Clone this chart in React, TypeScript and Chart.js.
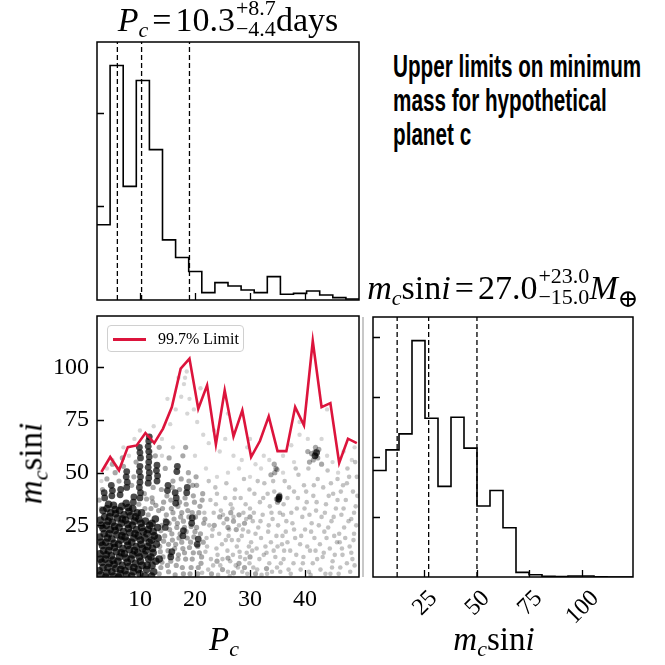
import React, { useEffect, useRef } from "react";
import { Chart, registerables } from "chart.js";
Chart.register(...registerables);

// ---------------- data ----------------
const pRange = [2.2, 49.8];
const mRange = [0.5, 124.3];
const pTicks = [10, 20, 30, 40];
const mTicks = [25, 50, 75, 100];

const pBinEdges = [2.2, 4.58, 6.96, 9.34, 11.72, 14.1, 16.48, 18.86, 21.24, 23.62, 26.0, 28.38, 30.76, 33.14, 35.52, 37.9, 40.28, 42.66, 45.04, 47.42, 49.8];
const pCounts = [804, 2507, 1214, 2346, 1607, 643, 454, 304, 79, 186, 150, 107, 79, 250, 61, 71, 96, 54, 25, 11];
const pQuantiles = [5.9, 10.3, 19.0];
const pHistTicks = [1000, 2000];

const mBinEdges = [0.5, 6.69, 12.88, 19.07, 25.26, 31.45, 37.64, 43.83, 50.02, 56.21, 62.4, 68.59, 74.78, 80.97, 87.16, 93.35, 99.54, 105.73, 111.92, 118.11, 124.3];
const mCounts = [889, 1061, 1194, 1972, 1325, 756, 1333, 1075, 592, 722, 411, 39, 19, 6, 3, 8, 8, 1, 0, 0];
const mQuantiles = [12.0, 27.0, 50.0];
const mHistTicks = [500, 1000, 1500, 2000];

const limitLabel = "99.7% Limit";
const limitP = [3.0, 4.6, 6.2, 7.8, 9.4, 11.0, 12.6, 14.2, 15.8, 17.4, 19.0, 20.6, 22.2, 23.8, 25.4, 27.0, 28.6, 30.2, 31.8, 33.4, 35.0, 36.6, 38.2, 39.8, 41.4, 43.0, 44.6, 46.2, 47.8, 49.4];
const limitM = [50.3, 57.4, 51.1, 62.1, 62.9, 68.8, 64.0, 70.9, 81.1, 99.3, 104.1, 80.3, 91.4, 63.4, 89.0, 67.2, 79.5, 57.4, 65.0, 76.7, 60.2, 60.2, 81.1, 72.4, 112.4, 81.1, 83.0, 54.6, 66.1, 64.0];

// posterior samples (P_c, m_c sin i)
const coreSamples = [
  [2.9,1.5],[3.3,5],[2.8,9],[3.4,13],[2.9,17],[3.5,21],[3.0,25],[3.6,29],
  [4.0,2.5],[4.4,7],[3.9,11],[4.5,15],[4.1,19],[4.6,23],[4.2,27],[4.7,31],[4.3,35],
  [5.2,1],[5.6,4.5],[5.1,8.5],[5.7,12.5],[5.3,16.5],[5.8,20.5],[5.4,24.5],[5.9,28.5],[5.5,32.5],
  [6.4,2],[6.8,6],[6.3,10],[6.9,14],[6.5,18],[7.0,22],[6.6,26],[7.1,30],[6.7,34],
  [7.6,1.5],[8.0,5.5],[7.5,9.5],[8.1,13.5],[7.7,17.5],[8.2,21.5],[7.8,25.5],[8.3,29.5],[7.9,33.5],
  [8.8,3],[9.2,7],[8.7,11],[9.3,15],[8.9,19],[9.4,23],[9.0,27],[9.5,31],
  [10.0,2],[10.4,6],[9.9,10],[10.5,14],[10.1,18],[10.6,22],[10.2,26],
  [11.2,4],[11.6,9],[11.1,13],[11.7,17],[11.3,21],[11.8,25],
  [12.5,3],[12.9,8],[12.4,12],[13.0,16],[12.6,20],[13.2,24],[12.8,28]
];
const coreSamples2 = [
  [2.6,3.5],[3.1,7.5],[2.7,11.5],[3.2,15.5],[2.7,19.5],[3.3,23.5],[2.8,27.5],[3.3,32],
  [3.8,0.5],[4.2,5],[3.7,9],[4.3,13],[3.8,17],[4.4,21],[3.9,25],[4.5,29],[4.0,33],
  [4.9,3],[5.3,6.5],[4.8,10.5],[5.4,14.5],[4.9,18.5],[5.5,22.5],[5.0,26.5],[5.6,30.5],[5.2,34.5],
  [6.1,0.5],[6.5,4],[6.0,8],[6.6,12],[6.1,16],[6.7,20],[6.2,24],[6.8,28],[6.3,32],
  [7.3,3.5],[7.7,7.5],[7.2,11.5],[7.8,15.5],[7.3,19.5],[7.9,23.5],[7.4,27.5],[8.0,31.5],[7.5,35.5],
  [8.5,1],[8.9,5],[8.4,9],[9.0,13],[8.5,17],[9.1,21],[8.6,25],[9.2,29],[8.7,33],
  [9.7,4],[10.1,8],[9.6,12],[10.2,16],[9.7,20],[10.3,24],[9.8,28],[10.3,31],
  [10.9,1],[11.3,6],[10.8,11],[11.4,15],[10.9,19],[11.5,23],[11.0,27],
  [12.1,1],[12.2,6],[12.0,10],[12.3,14],[12.1,18],[12.4,22],[12.2,26],[13.5,9],[13.3,19]
];
const streakSamples = [
  [4.9,39],[5.0,41.5],[4.8,44],[6.4,39.5],[6.5,42],
  [7.6,43],[7.7,45.5],[7.5,48],[7.6,50.5],
  [10.0,38],[10.1,40.5],[9.9,43],[10.0,45.5],[10.1,48],[9.9,50.5],[10.0,53],[10.1,57],[10.0,59.5],[9.9,62],
  [11.5,45],[11.6,47.5],[11.7,50],[11.5,52.5],[11.6,55],[11.7,57.5],[11.6,60],[11.5,62.5],[11.6,65],[11.7,67],
  [13.1,46],[13.2,48.5],[13.0,51],[13.1,53.5],
  [16.7,50.5],[16.8,53],[16.5,35.5],[16.6,38],[16.4,40.5],[15.0,41.5],[15.1,44],
  [18.5,40.5],[18.6,43],[19.4,26],[19.5,28.5],[3.6,38],[3.5,40.5],[8.8,36],[8.9,38.5],
  [14.6,24],[14.8,26.5],[17.8,20],[17.9,22.5],[15.6,10],[15.8,12.5],[20.4,16],[20.6,18.5],
  [35.2,37.5],[35.3,38.5],[41.8,58],[42.1,59.5]
];
const midSamples = [
  [13.8,5],[14.2,10],[13.6,15],[14.5,20],[14.0,25],[14.8,30],[14.3,36],[13.9,42],
  [15.2,3],[15.6,8],[15.1,13],[15.9,18],[15.4,23],[16.2,28],[15.7,33],[16.0,46],
  [16.6,6],[17.0,11],[16.5,16],[17.3,21],[16.8,26],[17.6,31],[17.2,36],[17.5,47],
  [17.9,2],[18.3,9],[17.8,14],[18.6,19],[18.1,24],[18.9,29],[18.4,35],[18.8,50],
  [19.3,5],[19.7,12],[19.2,17],[20.0,22],[19.5,31],[19.9,36],[19.6,44],
  [20.5,2],[21.1,7],[20.8,12],[21.5,17],[20.3,24],[21.8,28],[20.9,34],[21.4,40],
  [3.2,42],[4.0,47],[5.5,50],[6.2,46],[7.0,53],[8.5,44],[8.9,48],[9.3,55],[10.8,40],[12.2,38],
  [12.4,43],[12.8,58],[14.6,52],[13.5,62],[15.3,57],[17.8,58],[18.3,62],[3.0,33],[2.6,37],[6.8,57],[5.0,54],
  [26,24],[27,27],[28,30],[26.5,31],[29,26],[27.5,23],[30,29],[25.8,28],[24.5,29],[23.5,25],
  [41.5,56],[42,58],[41.8,60],[42.3,57],[41.2,59],[42.5,61],[40.8,55],[41.9,62],[43,54],[40.5,60],
  [35.2,37],[35.3,38.5],[35.0,36],[35.4,39.5],[34.8,37.5],
  [34.5,50],[34.7,52],[34.4,54],[34.9,51.5],[33.8,49],
  [23,2],[25,4],[27,2.5],[29,5],[31,2],[33,4.5],[24,8],[26,9.5],[28,7],[30,10]
];
const midSamples2 = [
  [13.5,2],[14.0,7.5],[13.7,12.5],[14.3,17.5],[13.8,22.5],[14.6,27.5],[14.1,33],[14.9,39],
  [15.0,6],[15.5,11],[15.2,16],[15.8,21],[15.3,26],[16.0,31],[15.6,37],[15.9,43],
  [16.4,1.5],[16.9,9],[16.3,14],[17.1,19],[16.7,24],[17.4,29],[16.9,34],[17.2,42],
  [17.7,5],[18.1,12],[17.6,17],[18.4,22],[17.9,27],[18.7,32],[18.2,38],[18.9,46],
  [19.1,2],[19.5,9],[19.0,14.5],[19.8,19.5],[19.3,24.5],[20.1,29],[19.7,39],[20.3,44],
  [20.6,5],[21.2,10],[20.5,15],[21.0,21],[21.6,26],[20.7,31],[21.3,37],[20.2,48],
  [12.0,33],[11.5,30],[12.3,36],[9.8,35],[10.9,33],[11.2,37.5],[13.4,32],[12.9,34.5]
];
const outerSamples = [
  [22.4,4],[22.9,9],[22.2,15],[23.1,20],[22.6,25],[23.4,31],[22.8,37],[23.7,43],
  [24.2,1.5],[24.6,6],[24.1,11],[24.9,16],[24.4,21],[25.2,26],[24.7,32],[25.5,38],
  [26.0,3],[26.4,8],[25.9,13],[26.7,18],[26.2,23],[27.0,29],[26.5,35],[27.3,42],
  [27.8,5],[28.2,10],[27.6,15],[28.5,20],[28.0,25],[28.8,31],[28.3,38],[28.9,47],
  [29.5,2],[29.9,7],[29.4,12],[30.2,17],[29.7,22],[30.5,27],[30.0,33],[30.8,40],
  [31.3,4],[31.7,9],[31.2,14],[32.0,19],[31.5,24],[32.3,30],[31.8,36],[32.6,45],
  [33.1,2],[33.5,7],[33.0,12],[33.8,17],[33.3,22],[34.1,28],[33.6,34],[34.4,41],
  [34.9,5],[34.6,10],[35.0,15],[34.8,20],[35.1,25],[35.4,31],
  [35.5,3],[36.1,9],[35.8,16],[36.5,22],[36.0,30],[36.8,38],[36.3,46],
  [37.4,2],[37.9,7],[37.3,13],[38.2,19],[37.7,26],[38.5,33],[38.0,41],[38.8,49],
  [39.2,4],[39.7,10],[39.1,16],[40.0,23],[39.5,29],[40.3,36],[39.8,44],[40.6,52],
  [41.0,1.5],[41.4,7],[40.9,13],[41.7,19],[41.2,26],[42.0,32],[41.5,39],[42.3,47],
  [42.8,4],[43.2,10],[42.7,16],[43.5,22],[43.0,29],[43.8,35],[43.3,43],[44.1,51],
  [44.6,2],[45.0,8],[44.5,14],[45.3,20],[44.8,27],[45.6,33],[45.1,40],[45.9,47],
  [46.4,5],[46.8,11],[46.3,17],[47.1,24],[46.6,30],[47.4,37],[46.9,44],[47.7,52],
  [48.2,3],[48.6,9],[48.1,15],[48.9,21],[48.4,28],[49.2,34],[48.7,41],[49.4,48]
];
const outerSamples2 = [
  [21.3,2.5],[21.9,12.5],[22.1,19],[21.7,31],[22.5,46],[23.3,6],[23.9,14],[23.2,23],[23.8,35],[24.0,40],
  [25.0,9],[25.6,18],[25.1,30],[25.7,45],[26.3,1],[26.9,11],[26.1,20],[26.8,33],[27.4,6],[27.9,18],
  [27.2,38],[28.6,3],[28.1,12.5],[28.7,23],[29.2,35],[29.1,9],[29.8,15],[29.3,28],[29.9,42],[30.6,5],
  [30.4,13],[31.0,21],[30.7,31],[31.4,46],[32.1,1.5],[32.5,11],[31.9,27],[32.4,38],[32.8,15],[33.4,25],
  [33.2,40],[34.0,3],[34.3,13],[33.9,31],[34.2,46],[35.6,7],[36.2,13],[35.9,20],[36.6,27],[36.1,35],
  [37.0,4],[36.8,17],[37.5,31],[37.1,43],[38.4,11],[38.0,23],[38.7,38],[38.3,52],[39.6,7],[39.3,20],
  [39.9,33],[40.2,41],[40.7,3],[40.4,15],[41.1,22],[40.8,30],[41.6,44],[42.2,9],[41.9,13],[42.5,25],
  [42.1,36],[43.7,2],[43.4,12],[43.9,19],[43.6,31],[44.3,39],[44.9,5],[44.2,24],[44.7,45],[45.4,11],
  [45.8,17],[45.2,29],[45.9,37],[46.1,2],[46.7,14],[46.2,21],[47.0,33],[46.5,41],[47.6,7],[47.3,19],
  [47.9,27],[47.6,45],[48.4,12],[49.0,6],[48.8,18],[49.3,25],[48.9,31],[49.5,39],[48.0,48],[49.1,55]
];
const sparseSamples = [
  [12.5,72],[14,66],[15.5,73],[16.5,80],[17.5,86],[18.2,95],[18.5,98],[18.0,92],[19,85],[18.6,78],
  [19.8,80],[20.4,74],[21.5,68],[22.5,64],[23.5,70],[24.5,60],[25.5,66],[27,58],[28.5,56],[29.5,62],
  [31,54],[32.5,58],[33.5,56],[36,58],[37.5,63],[39,68],[40.5,66],[43,66],[45,55],[47,60],
  [48.5,56],[46,50],[9,66],[7,62],[5,56],[3,46],[4,52],[6,52],[8,58],[10,70],
  [12,60],[14,58],[16,62],[20,58],[22,52],[24,48],[26,50],[28,52],[30,48],[32,52],
  [36,50],[38,55],[44,58],[49,62],[21,90],[17,95],[44,80],[39,74],[26,78],[30,66],[15,85]
];

// ---------------- helpers ----------------
const SERIF = '"Liberation Serif", "DejaVu Serif", "Times New Roman", serif';
Chart.defaults.font.family = SERIF;
Chart.defaults.color = "#000";

const toXY = (arr: number[][]) => arr.map(([x, y]) => ({ x, y }));
const histPoints = (edges: number[], counts: number[]) => {
  const pts = counts.map((c, i) => ({ x: edges[i], y: c }));
  pts.push({ x: edges[edges.length - 1], y: counts[counts.length - 1] });
  return pts;
};
const vline = (x: number, top: number) => ({
  type: "scatter", data: [{ x, y: 0 }, { x, y: top }], showLine: true,
  borderColor: "#000", borderWidth: 1.3, borderDash: [5, 3], pointRadius: 0, order: 0,
});

const framePlugin = {
  id: "frame",
  afterDatasetsDraw(chart: any, _a: any, opts: any) {
    const { ctx, chartArea: a } = chart;
    ctx.save();
    ctx.strokeStyle = "#000";
    ctx.lineWidth = 1.5;
    ctx.strokeRect(a.left, a.top, a.right - a.left, a.bottom - a.top);
    ctx.lineWidth = 1.3;
    const xs = chart.scales.x, ys = chart.scales.y;
    ctx.beginPath();
    xs.ticks.forEach((t: any) => {
      const px = Math.round(xs.getPixelForValue(t.value)) + 0.5;
      ctx.moveTo(px, a.bottom); ctx.lineTo(px, a.bottom - 7);
    });
    ys.ticks.forEach((t: any) => {
      const py = Math.round(ys.getPixelForValue(t.value)) + 0.5;
      ctx.moveTo(a.left, py); ctx.lineTo(a.left + 7, py);
    });
    ctx.stroke();
    if (opts && opts.rotated) {
      ctx.font = `24px ${SERIF}`;
      ctx.fillStyle = "#000";
      ctx.textAlign = "center";
      ctx.textBaseline = "middle";
      xs.ticks.forEach((t: any) => {
        const label = String(t.value);
        const w = ctx.measureText(label).width;
        const half = ((w + 17) * Math.SQRT1_2) / 2;
        const px = xs.getPixelForValue(t.value);
        ctx.save();
        ctx.translate(px, a.bottom + 11 + half);
        ctx.rotate(-Math.PI / 4);
        ctx.fillText(label, 0, 1);
        ctx.restore();
      });
    }
    ctx.restore();
  },
};

const zeroPad = (s: any) => { s.paddingTop = 0; s.paddingBottom = 0; s.paddingLeft = 0; s.paddingRight = 0; };

const hiddenAxis = (min: number, max: number, ticks: number[], horizontal: boolean) => ({
  type: "linear", min, max, display: true,
  grid: { display: false, drawTicks: false }, border: { display: false },
  ticks: { display: false },
  afterBuildTicks: (s: any) => { s.ticks = ticks.map((v) => ({ value: v })); },
  afterFit: (s: any) => { if (horizontal) s.height = 0; else s.width = 0; zeroPad(s); },
});

function useChart(ref: any, make: () => any) {
  useEffect(() => {
    const c = new Chart(ref.current, make());
    return () => c.destroy();
  }, []);
}

function TopHist() {
  const ref = useRef<HTMLCanvasElement>(null);
  useChart(ref, () => {
    const top = Math.max(...pCounts) * 1.1;
    return {
      type: "scatter",
      data: {
        datasets: [
          ...pQuantiles.map((q) => vline(q, top)),
          { data: histPoints(pBinEdges, pCounts), showLine: true, stepped: "before", borderColor: "#000", borderWidth: 1.6, pointRadius: 0, order: 1 },
        ],
      },
      options: {
        animation: false, responsive: false,
        layout: { padding: { left: 97, top: 42, right: 11, bottom: 10 } },
        plugins: { legend: { display: false }, tooltip: { enabled: false } },
        scales: { x: hiddenAxis(pRange[0], pRange[1], pTicks, true), y: hiddenAxis(0, top, pHistTicks, false) },
      },
      plugins: [framePlugin],
    };
  });
  return <canvas ref={ref} width={370} height={310} style={{ position: "absolute", left: 0, top: 0, width: 370, height: 310 }} />;
}

function RightHist() {
  const ref = useRef<HTMLCanvasElement>(null);
  useChart(ref, () => {
    const top = Math.max(...mCounts) * 1.1;
    return {
      type: "scatter",
      data: {
        datasets: [
          ...mQuantiles.map((q) => vline(q, top)),
          { data: histPoints(mBinEdges, mCounts), showLine: true, stepped: "before", borderColor: "#000", borderWidth: 1.6, pointRadius: 0, order: 1 },
        ],
      },
      options: {
        animation: false, responsive: false,
        layout: { padding: { left: 3, top: 7, right: 32, bottom: 88 } },
        plugins: { legend: { display: false }, tooltip: { enabled: false }, frame: { rotated: true } },
        scales: { x: hiddenAxis(mRange[0], mRange[1], mTicks, true), y: hiddenAxis(0, top, mHistTicks, false) },
      },
      plugins: [framePlugin],
    };
  });
  return <canvas ref={ref} width={295} height={355} style={{ position: "absolute", left: 370, top: 310, width: 295, height: 355 }} />;
}

function Scatter() {
  const ref = useRef<HTMLCanvasElement>(null);
  useChart(ref, () => {
    const pts = (arr: number[][], a: number, r: number, order: number) => ({
      data: toXY(arr), backgroundColor: `rgba(0,0,0,${a})`, borderWidth: 0, pointRadius: r, order,
    });
    return {
      type: "scatter",
      data: {
        datasets: [
          { label: limitLabel, data: limitP.map((x, i) => ({ x, y: limitM[i] })), showLine: true, borderColor: "#dc143c", borderWidth: 2.6, pointRadius: 0, order: 0 },
          pts(streakSamples, 0.7, 3.4, 1),
          pts(coreSamples, 0.72, 3.8, 2),
          pts(coreSamples2, 0.72, 3.8, 3),
          pts(midSamples, 0.34, 2.6, 4),
          pts(midSamples2, 0.34, 2.6, 5),
          pts(outerSamples, 0.24, 2.3, 6),
          pts(outerSamples2, 0.24, 2.3, 7),
          pts(sparseSamples, 0.16, 2.2, 8),
        ],
      },
      options: {
        animation: false, responsive: false,
        layout: { padding: { left: 0, top: 6, right: 11, bottom: 0 } },
        plugins: { legend: { display: false }, tooltip: { enabled: false } },
        scales: {
          x: {
            type: "linear", min: pRange[0], max: pRange[1],
            grid: { display: false, drawTicks: false }, border: { display: false },
            ticks: { padding: 8, font: { size: 24 }, color: "#000" },
            afterBuildTicks: (s: any) => { s.ticks = pTicks.map((v) => ({ value: v })); },
            afterFit: (s: any) => { s.height = 88; zeroPad(s); },
          },
          y: {
            type: "linear", min: mRange[0], max: mRange[1],
            grid: { display: false, drawTicks: false }, border: { display: false },
            ticks: { padding: 8, font: { size: 24 }, color: "#000" },
            afterBuildTicks: (s: any) => { s.ticks = mTicks.map((v) => ({ value: v })); },
            afterFit: (s: any) => { s.width = 97; zeroPad(s); },
          },
        },
      },
      plugins: [framePlugin],
    };
  });
  return <canvas ref={ref} width={370} height={355} style={{ position: "absolute", left: 0, top: 310, width: 370, height: 355 }} />;
}

function Stack({ sup, sub, width, size = 22, supTop = -34, subTop = -13 }: any) {
  return (
    <span style={{ position: "relative", display: "inline-block", width, height: 0 }}>
      <span style={{ position: "absolute", left: 1, top: supTop, fontSize: size, lineHeight: `${size}px`, whiteSpace: "nowrap" }}>{sup}</span>
      <span style={{ position: "absolute", left: 1, top: subTop, fontSize: size, lineHeight: `${size}px`, whiteSpace: "nowrap" }}>{sub}</span>
    </span>
  );
}

const abs = (o: any) => ({ position: "absolute", fontFamily: SERIF, color: "#000", whiteSpace: "nowrap", ...o });
const Sub = ({ children, size = 22, dy = -6, italic = true }: any) => (
  <span style={{ fontSize: size, fontStyle: italic ? "italic" : "normal", verticalAlign: `${dy}px`, lineHeight: 0 }}>{children}</span>
);
const Eq = () => <span style={{ margin: "0 4px" }}>=</span>;

export default function App() {
  return (
    <div style={{ position: "fixed", left: 0, top: 0, width: 665, height: 665, background: "#fff", overflow: "hidden" }}>
      <TopHist />
      <Scatter />
      <RightHist />
      {/* faint separator line seen in the reference */}
      <div style={{ position: "absolute", left: 362, top: 317, width: 1.5, height: 260, background: "#c8c8c8" }} />
      {/* titles */}
      <div style={abs({ left: 97, width: 262, top: 3, fontSize: 34, lineHeight: "34px", textAlign: "center" })}>
        <i>P</i><Sub>c</Sub><Eq />10.3<Stack sup="+8.7" sub="−4.4" width={41} />days
      </div>
      <div style={abs({ left: 353, width: 300, top: 271, fontSize: 34, lineHeight: "34px", textAlign: "center" })}>
        <i>m</i><Sub>c</Sub>sin<i>i</i><Eq />27.0<Stack sup="+23.0" sub="−15.0" width={52} /><i>M</i><Sub size={25} dy={-8} italic={false}>⊕</Sub>
      </div>
      {/* axis titles */}
      <div style={abs({ left: 93, width: 262, top: 623, fontSize: 33, lineHeight: "33px", textAlign: "center" })}>
        <i>P</i><Sub>c</Sub>
      </div>
      <div style={abs({ left: 364, width: 260, top: 623, fontSize: 33, lineHeight: "33px", textAlign: "center" })}>
        <i>m</i><Sub>c</Sub>sin<i>i</i>
      </div>
      <div style={abs({ left: 31 - 70, width: 140, top: 463 - 16.5, height: 33, fontSize: 33, lineHeight: "33px", textAlign: "center", transform: "rotate(-90deg)" })}>
        <i>m</i><Sub>c</Sub>sin<i>i</i>
      </div>
      {/* legend */}
      <div style={abs({ left: 107, top: 325, width: 137, height: 27, border: "1px solid #d0d0d0", borderRadius: 4, background: "rgba(255,255,255,0.85)", boxSizing: "border-box" })}>
        <div style={{ position: "absolute", left: 5, top: 12, width: 33, height: 2.6, background: "#dc143c" }} />
        <div style={{ position: "absolute", left: 50, top: 3, fontSize: 16, lineHeight: "20px" }}>{limitLabel}</div>
      </div>
      {/* annotation */}
      <div style={{ position: "absolute", left: 393, top: 50, fontFamily: '"Liberation Sans", Arial, sans-serif', fontWeight: 700, fontSize: 31, lineHeight: "34px", color: "#000", whiteSpace: "nowrap", transform: "scaleX(0.667)", transformOrigin: "0 0" }}>
        Upper limits on minimum<br />mass for hypothetical<br />planet c
      </div>
    </div>
  );
}
